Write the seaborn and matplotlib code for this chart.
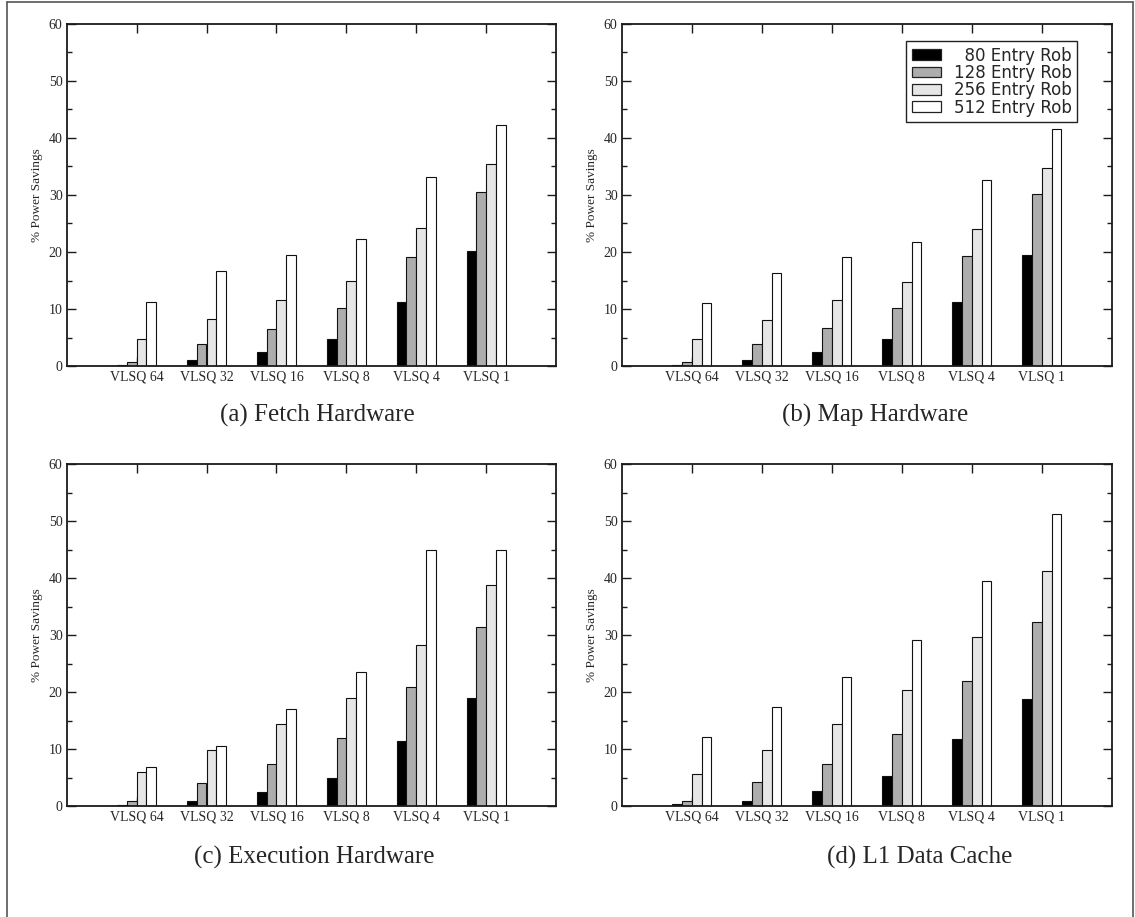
import matplotlib
matplotlib.use("Agg")
import matplotlib.pyplot as plt
import seaborn as sns
import pandas as pd
from matplotlib.ticker import MultipleLocator
from matplotlib.lines import Line2D
from matplotlib.patches import Patch

categories = ["VLSQ 64", "VLSQ 32", "VLSQ 16", "VLSQ 8", "VLSQ 4", "VLSQ 1"]
series = ["80 Entry Rob", "128 Entry Rob", "256 Entry Rob", "512 Entry Rob"]
series_colors = ["#000000", "#adadad", "#e6e6e6", "#ffffff"]

# (a) Fetch Hardware
fetch_80 = [0.2, 1.1, 2.5, 4.7, 11.3, 20.1]
fetch_128 = [0.7, 3.8, 6.5, 10.1, 19.2, 30.6]
fetch_256 = [4.8, 8.2, 11.6, 14.9, 24.2, 35.4]
fetch_512 = [11.2, 16.6, 19.4, 22.2, 33.1, 42.3]

# (b) Map Hardware
map_80 = [0.2, 1.0, 2.5, 4.7, 11.3, 19.4]
map_128 = [0.7, 3.9, 6.7, 10.2, 19.3, 30.2]
map_256 = [4.7, 8.1, 11.6, 14.8, 24.1, 34.7]
map_512 = [11.1, 16.4, 19.1, 21.8, 32.7, 41.5]

# (c) Execution Hardware
exec_80 = [0.2, 0.9, 2.5, 4.9, 11.4, 19.0]
exec_128 = [0.8, 4.1, 7.4, 11.9, 20.9, 31.4]
exec_256 = [5.9, 9.8, 14.3, 19.0, 28.2, 38.7]
exec_512 = [6.8, 10.5, 17.1, 23.5, 44.9, 45.0]

# (d) L1 Data Cache
l1_80 = [0.3, 0.9, 2.6, 5.2, 11.7, 18.8]
l1_128 = [0.9, 4.2, 7.3, 12.7, 21.9, 32.3]
l1_256 = [5.7, 9.8, 14.3, 20.4, 29.7, 41.3]
l1_512 = [12.1, 17.3, 22.6, 29.1, 39.4, 51.2]

panel_titles = ["(a) Fetch Hardware", "(b) Map Hardware",
                "(c) Execution Hardware", "(d) L1 Data Cache"]
panel_data = [
    [fetch_80, fetch_128, fetch_256, fetch_512],
    [map_80, map_128, map_256, map_512],
    [exec_80, exec_128, exec_256, exec_512],
    [l1_80, l1_128, l1_256, l1_512],
]
y_label = "% Power Savings"

sns.set_style("ticks")
plt.rcParams["font.family"] = ["Liberation Serif", "DejaVu Serif"]

W, H = 1135, 917
fig = plt.figure(figsize=(W / 100, H / 100), dpi=100)

# axes rectangles in pixels: (left, top, right, bottom)
rects = [(66.7, 24, 556, 366), (621.7, 24, 1111.7, 366),
         (66.7, 464, 556, 806), (621.7, 464, 1111.7, 806)]
title_pos = [(317, 415), (875, 415), (314, 857), (920, 857)]

palette = dict(zip(series, series_colors))
spine_col = "#1a1a1a"

for i, (l, t, r, b) in enumerate(rects):
    ax = fig.add_axes([l / W, 1 - b / H, (r - l) / W, (b - t) / H])
    rows = []
    for s, vals in zip(series, panel_data[i]):
        for c, v in zip(categories, vals):
            rows.append({"category": c, "series": s, "value": v})
    df = pd.DataFrame(rows)
    sns.barplot(data=df, x="category", y="value", hue="series",
                order=categories, hue_order=series, palette=palette,
                width=0.56, saturation=1, edgecolor="#111111",
                linewidth=0.8, errorbar=None, legend=False, ax=ax)
    ax.set_xlim(-1, len(categories))
    ax.set_ylim(0, 60)
    ax.yaxis.set_major_locator(MultipleLocator(10))
    ax.yaxis.set_minor_locator(MultipleLocator(5))
    ax.set_xlabel("")
    ax.set_ylabel(y_label, fontsize=9.5, labelpad=4)
    ax.tick_params(axis="both", which="both", direction="in",
                   top=True, right=True, color=spine_col, width=1.0)
    ax.tick_params(axis="both", which="major", length=6.5, labelsize=10)
    ax.tick_params(axis="y", which="minor", length=3.5)
    ax.tick_params(axis="x", which="minor", length=0)
    ax.tick_params(axis="x", pad=3.5)
    ax.tick_params(axis="y", pad=3)
    for sp in ax.spines.values():
        sp.set_visible(True)
        sp.set_linewidth(1.3)
        sp.set_color(spine_col)
    fig.text(title_pos[i][0] / W, 1 - title_pos[i][1] / H, panel_titles[i],
             ha="center", va="center", fontsize=18,
             family=["Liberation Serif", "DejaVu Serif"])
    if i == 1:
        handles = [Patch(facecolor=c, edgecolor="#222222", linewidth=0.9)
                   for c in series_colors]
        labels = [("  " + s) if len(s.split()[0]) == 2 else s for s in series]
        leg = ax.legend(handles, labels, loc="upper right",
                        bbox_to_anchor=(0.9297, 0.9512), borderaxespad=0,
                        prop={"family": "DejaVu Sans", "size": 12},
                        handlelength=1.76, handleheight=0.6,
                        handletextpad=0.75, labelspacing=-0.04,
                        borderpad=0.35, fancybox=False, framealpha=1,
                        edgecolor="#222222")
        leg.get_frame().set_linewidth(1.0)

# outer frame of the whole figure
frame_col = "#555555"
fig.add_artist(Line2D([6.7 / W, 6.7 / W], [0, 1 - 2 / H], transform=fig.transFigure,
                      color=frame_col, linewidth=1.2))
fig.add_artist(Line2D([6.7 / W, 1133 / W], [1 - 2 / H, 1 - 2 / H],
                      transform=fig.transFigure, color=frame_col, linewidth=1.2))
fig.add_artist(Line2D([1133 / W, 1133 / W], [0, 1 - 2 / H], transform=fig.transFigure,
                      color=frame_col, linewidth=1.2))

fig.savefig("out.png", dpi=100)
